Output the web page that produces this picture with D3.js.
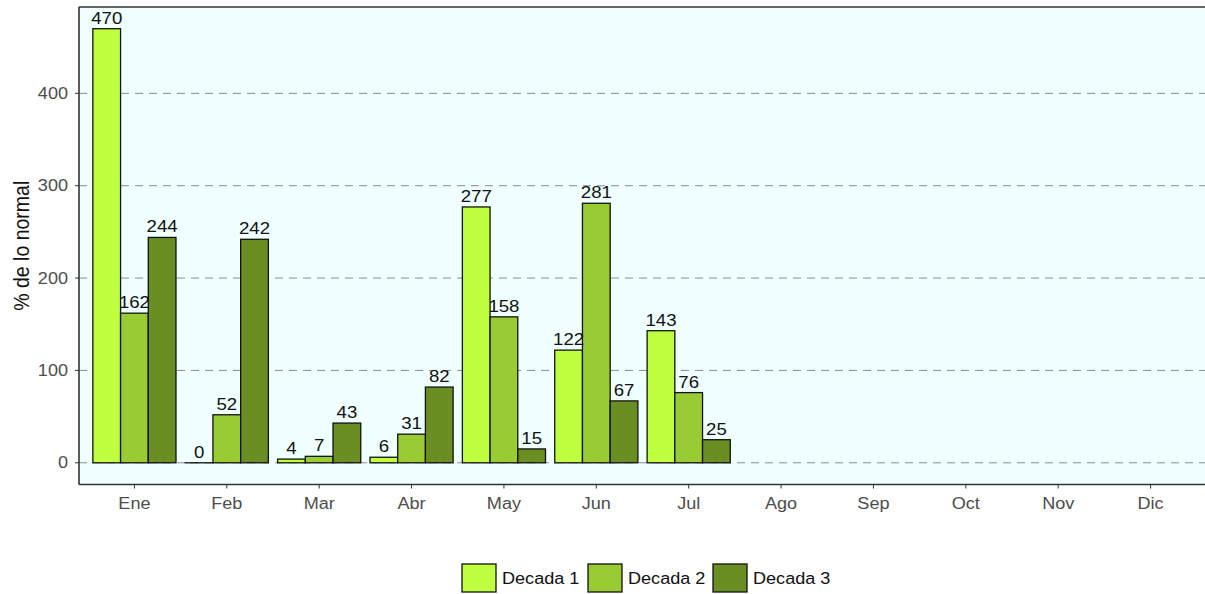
<!DOCTYPE html>
<html><head><meta charset="utf-8">
<script src="https://cdn.jsdelivr.net/npm/d3@7"></script>
<style>body{margin:0;background:#fff;} svg{display:block;font-family:"Liberation Sans",Arial,sans-serif;}</style>
</head><body><svg id="c" width="1205" height="594"></svg>
<script>
const months = ["Ene","Feb","Mar","Abr","May","Jun","Jul","Ago","Sep","Oct","Nov","Dic"];
const series = ["Decada 1","Decada 2","Decada 3"];
const decada1 = [470, 0, 4, 6, 277, 122, 143];
const decada2 = [162, 52, 7, 31, 158, 281, 76];
const decada3 = [244, 242, 43, 82, 15, 67, 25];
const colors = ["#bfff3f","#99cc33","#6b8e23"];
const yTicks = [0,100,200,300,400];

const SX = 1.13; // horizontal stretch of the reference text
const svg = d3.select("#c");
const L = 79, R = 1206, T = 7, B = 484.5;
const y = d3.scaleLinear().domain([-23.5, 493.5]).range([B, T]);
const step = (R - L) / (months.length - 1 + 1.2);
const xc = m => L + (0.6 + months.indexOf(m)) * step;
const xs = d3.scaleBand().domain(series).range([-0.45*step, 0.45*step]);

svg.append("rect").attr("x", L).attr("y", T).attr("width", R - L).attr("height", B - T).attr("fill", "#f0ffff");

const g = svg.append("g");
g.selectAll(".grid").data(yTicks).join("line")
  .attr("x1", L).attr("x2", R).attr("y1", d => y(d)).attr("y2", d => y(d))
  .attr("stroke", "#8c8c8c").attr("stroke-width", 1).attr("stroke-dasharray", "8,6");

const data = [];
[decada1, decada2, decada3].forEach((arr, si) => arr.forEach((v, mi) => data.push({m: months[mi], s: series[si], si, v})));

g.selectAll(".bar").data(data).join("rect")
  .attr("x", d => xc(d.m) + xs(d.s))
  .attr("width", xs.bandwidth())
  .attr("y", d => y(Math.max(0, d.v)))
  .attr("height", d => Math.max(0.01, Math.abs(y(d.v) - y(0))))
  .attr("fill", d => colors[d.si]).attr("stroke", "#111").attr("stroke-width", 1.3);

g.selectAll(".lab").data(data).join("text")
  .attr("transform", d => `translate(${xc(d.m) + xs(d.s) + xs.bandwidth()/2},${y(d.v) - 5}) scale(${SX},1)`)
  .attr("text-anchor", "middle").attr("font-size", 16.5).attr("fill", "#111")
  .text(d => d.v);

// panel border (left, top, bottom)
svg.append("line").attr("x1", L).attr("x2", R).attr("y1", T).attr("y2", T).attr("stroke", "#333").attr("stroke-width", 1.6);
svg.append("line").attr("x1", L).attr("x2", L).attr("y1", T).attr("y2", B).attr("stroke", "#333").attr("stroke-width", 1.6);
svg.append("line").attr("x1", L).attr("x2", R).attr("y1", B).attr("y2", B).attr("stroke", "#333").attr("stroke-width", 1.6);

// y axis
const ya = svg.append("g");
ya.selectAll("line").data(yTicks).join("line")
  .attr("x1", L - 4).attr("x2", L).attr("y1", d => y(d)).attr("y2", d => y(d)).attr("stroke", "#333");
ya.selectAll("text").data(yTicks).join("text")
  .attr("transform", d => `translate(${L - 11},${y(d)}) scale(${SX},1)`)
  .attr("dy", "0.35em").attr("text-anchor", "end")
  .attr("font-size", 16).attr("fill", "#4d4d4d").text(d => d);

// x axis
const xa = svg.append("g");
xa.selectAll("line").data(months).join("line")
  .attr("x1", d => xc(d)).attr("x2", d => xc(d)).attr("y1", B).attr("y2", B + 4).attr("stroke", "#333");
xa.selectAll("text").data(months).join("text")
  .attr("transform", d => `translate(${xc(d)},${B + 24}) scale(${SX},1)`)
  .attr("text-anchor", "middle")
  .attr("font-size", 16).attr("fill", "#4d4d4d").text(d => d);

svg.append("text").attr("transform", `translate(29,${(T+B)/2}) scale(${SX},1) rotate(-90)`)
  .attr("text-anchor", "middle").attr("font-size", 19.5).attr("fill", "#111").text("% de lo normal");

// legend
const leg = svg.append("g");
const lx = [462, 588, 713];
series.forEach((s, i) => {
  leg.append("rect").attr("x", lx[i]).attr("y", 564).attr("width", 34).attr("height", 28)
    .attr("fill", colors[i]).attr("stroke", "#111").attr("stroke-width", 1.3);
  leg.append("text").attr("transform", `translate(${lx[i] + 40},578) scale(${SX},1)`).attr("dy", "0.35em")
    .attr("font-size", 16).attr("fill", "#111").text(s);
});
</script></body></html>
